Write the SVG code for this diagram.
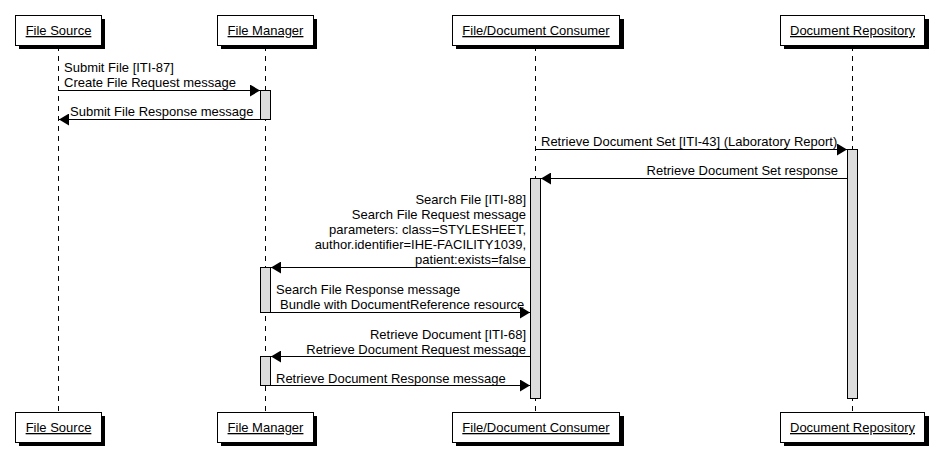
<svg xmlns="http://www.w3.org/2000/svg" width="939" height="468" viewBox="0 0 939 468">
<style>
text{font-family:"Liberation Sans",Arial,sans-serif;font-size:13px;fill:#000}
.lbl{text-decoration:underline;text-anchor:middle}
.box{fill:#fff;stroke:#000;stroke-width:1}
.sh{fill:#000}
.life{stroke:#000;stroke-width:1;stroke-dasharray:5,5;fill:none}
.act{fill:#ddd;stroke:#000;stroke-width:1}
.msg{stroke:#000;stroke-width:1;fill:none}
.r{text-anchor:end}
</style>
<defs>
<marker id="ah" viewBox="0 0 10 12" refX="10" refY="6" markerWidth="10" markerHeight="12" markerUnits="userSpaceOnUse" orient="auto">
<path d="M0,0 L10,6 L0,12 z" fill="#000"/>
</marker>
</defs>
<rect width="939" height="468" fill="#fff"/>
<g id="lifelines">
<line class="life" x1="58.5" y1="46" x2="58.5" y2="412"/>
<line class="life" x1="265.5" y1="46" x2="265.5" y2="412"/>
<line class="life" x1="535.5" y1="46" x2="535.5" y2="412"/>
<line class="life" x1="852.5" y1="46" x2="852.5" y2="412"/>
</g>
<g id="node-file-source">
<rect class="sh" x="19" y="19" width="86" height="30"/>
<rect class="box" x="15.5" y="15.5" width="86" height="30"/>
<text class="lbl" x="58.5" y="35">File Source</text>
<rect class="sh" x="19" y="416" width="86" height="30"/>
<rect class="box" x="15.5" y="412.5" width="86" height="30"/>
<text class="lbl" x="58.5" y="432">File Source</text>
</g>
<g id="node-file-manager">
<rect class="sh" x="221" y="19" width="96" height="30"/>
<rect class="box" x="217.5" y="15.5" width="96" height="30"/>
<text class="lbl" x="265.5" y="35">File Manager</text>
<rect class="sh" x="221" y="416" width="96" height="30"/>
<rect class="box" x="217.5" y="412.5" width="96" height="30"/>
<text class="lbl" x="265.5" y="432">File Manager</text>
</g>
<g id="node-consumer">
<rect class="sh" x="456" y="19" width="168" height="30"/>
<rect class="box" x="452.5" y="15.5" width="167" height="30"/>
<text class="lbl" x="536" y="35">File/Document Consumer</text>
<rect class="sh" x="456" y="416" width="168" height="30"/>
<rect class="box" x="452.5" y="412.5" width="167" height="30"/>
<text class="lbl" x="536" y="432">File/Document Consumer</text>
</g>
<g id="node-repository">
<rect class="sh" x="784" y="19" width="145" height="30"/>
<rect class="box" x="780.5" y="15.5" width="144" height="30"/>
<text class="lbl" x="852.5" y="35">Document Repository</text>
<rect class="sh" x="784" y="416" width="145" height="30"/>
<rect class="box" x="780.5" y="412.5" width="144" height="30"/>
<text class="lbl" x="852.5" y="432">Document Repository</text>
</g>
<g id="activations">
<rect class="act" x="260.5" y="90.5" width="10" height="29"/>
<rect class="act" x="847.5" y="149.5" width="10" height="249"/>
<rect class="act" x="530.5" y="178.5" width="10" height="220"/>
<rect class="act" x="260.5" y="267.5" width="10" height="45"/>
<rect class="act" x="260.5" y="356.5" width="10" height="29"/>
</g>
<g id="connectors">
<line class="msg" x1="59" y1="90.5" x2="260" y2="90.5" marker-end="url(#ah)"/>
<line class="msg" x1="260" y1="119.5" x2="59" y2="119.5" marker-end="url(#ah)"/>
<line class="msg" x1="536" y1="149.5" x2="847" y2="149.5" marker-end="url(#ah)"/>
<line class="msg" x1="847" y1="178.5" x2="541" y2="178.5" marker-end="url(#ah)"/>
<line class="msg" x1="530" y1="267.5" x2="271" y2="267.5" marker-end="url(#ah)"/>
<line class="msg" x1="271" y1="312.5" x2="530" y2="312.5" marker-end="url(#ah)"/>
<line class="msg" x1="530" y1="356.5" x2="271" y2="356.5" marker-end="url(#ah)"/>
<line class="msg" x1="271" y1="385.5" x2="530" y2="385.5" marker-end="url(#ah)"/>
</g>
<g id="labels">
<text x="64" y="71.5">Submit File [ITI-87]</text>
<text x="64" y="86.5">Create File Request message</text>
<text x="70" y="115.5">Submit File Response message</text>
<text x="541" y="145.5">Retrieve Document Set [ITI-43] (Laboratory Report)</text>
<text class="r" x="838" y="174.5">Retrieve Document Set response</text>
<text class="r" x="526" y="203.5">Search File [ITI-88]</text>
<text class="r" x="526" y="218.5">Search File Request message</text>
<text class="r" x="526" y="233.5">parameters: class=STYLESHEET,</text>
<text class="r" x="526" y="248.5">author.identifier=IHE-FACILITY1039,</text>
<text class="r" x="526" y="263.5">patient:exists=false</text>
<text x="276" y="293.5">Search File Response message</text>
<text x="280" y="308.5">Bundle with DocumentReference resource</text>
<text class="r" x="526" y="338.5">Retrieve Document [ITI-68]</text>
<text class="r" x="526" y="353.5">Retrieve Document Request message</text>
<text x="276" y="382.5">Retrieve Document Response message</text>
</g>
</svg>
